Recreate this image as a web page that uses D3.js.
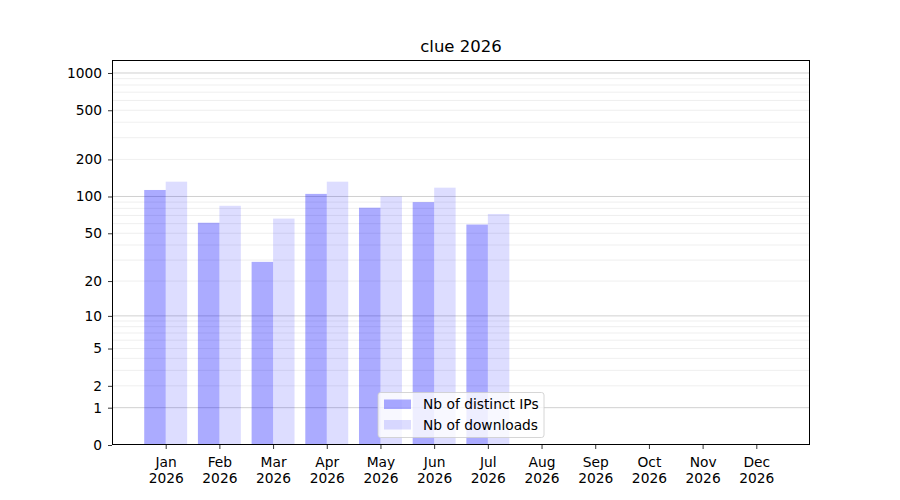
<!DOCTYPE html>
<html>
<head>
<meta charset="utf-8">
<script src="https://cdn.jsdelivr.net/npm/d3@7"></script>
<style>
  body { margin: 0; background: #fff; }
  text { font-family: "DejaVu Sans", sans-serif; fill: #000; }
</style>
</head>
<body>
<div id="chart"></div>
<script>
const months = ['Jan', 'Feb', 'Mar', 'Apr', 'May', 'Jun', 'Jul', 'Aug', 'Sep', 'Oct', 'Nov', 'Dec'];
const year = '2026';
const distinctIPs = [113, 61, 29, 105, 81, 90, 59];
const downloads = [132, 84, 66, 132, 100, 118, 72];
const yTicks = [0, 1, 2, 5, 10, 20, 50, 100, 200, 500, 1000];
const majorGrid = [1, 10, 100, 1000];
const minorGrid = [2, 3, 4, 5, 6, 7, 8, 9, 20, 30, 40, 50, 60, 70, 80, 90,
    200, 300, 400, 500, 600, 700, 800, 900];

const width = 900, height = 500;
const plot = { left: 112, right: 810, top: 60, bottom: 445 };
const fontSize = '13.8px';

const svg = d3.select('#chart').append('svg')
    .attr('width', width)
    .attr('height', height);

const x = d3.scaleLinear().domain([-1, 12]).range([plot.left, plot.right]);
const y = d3.scaleSymlog().constant(1).domain([0, 1273]).range([plot.bottom, plot.top]);
const barW = 0.4;

// grid lines
svg.append('g').selectAll('line').data(minorGrid).join('line')
    .attr('x1', plot.left).attr('x2', plot.right)
    .attr('y1', d => y(d)).attr('y2', d => y(d))
    .attr('stroke', '#ebebeb').attr('stroke-width', 0.8);
svg.append('g').selectAll('line').data(majorGrid).join('line')
    .attr('x1', plot.left).attr('x2', plot.right)
    .attr('y1', d => y(d)).attr('y2', d => y(d))
    .attr('stroke', '#c4c4c4').attr('stroke-width', 0.8);

// bars
svg.append('g').selectAll('rect').data(distinctIPs).join('rect')
    .attr('x', (d, i) => x(i - barW))
    .attr('width', x(barW) - x(0))
    .attr('y', d => y(d))
    .attr('height', d => y(0) - y(d))
    .attr('fill', 'blue').attr('fill-opacity', 0.33);
svg.append('g').selectAll('rect').data(downloads).join('rect')
    .attr('x', (d, i) => x(i))
    .attr('width', x(barW) - x(0))
    .attr('y', d => y(d))
    .attr('height', d => y(0) - y(d))
    .attr('fill', 'blue').attr('fill-opacity', 0.135);

// axes
const yAxis = d3.axisLeft(y).tickValues(yTicks).tickSize(4).tickPadding(6)
    .tickFormat(d3.format('d'));
const gy = svg.append('g').attr('transform', `translate(${plot.left},0)`).call(yAxis);
gy.select('.domain').remove();
gy.selectAll('text').style('font-size', fontSize);
gy.selectAll('line').attr('stroke-width', 0.8);

const xAxis = d3.axisBottom(x).tickValues(d3.range(12)).tickSize(4).tickPadding(4)
    .tickFormat(() => '');
const gx = svg.append('g').attr('transform', `translate(0,${plot.bottom})`).call(xAxis);
gx.select('.domain').remove();
gx.selectAll('line').attr('stroke-width', 0.8);
gx.selectAll('.tick').each(function(d) {
    const t = d3.select(this).append('text')
        .attr('text-anchor', 'middle')
        .style('font-size', fontSize);
    t.append('tspan').attr('x', 0).attr('y', 22).text(months[d]);
    t.append('tspan').attr('x', 0).attr('y', 37.5).text(year);
});

// frame
svg.append('rect')
    .attr('x', plot.left + 0.5).attr('y', plot.top + 0.5)
    .attr('width', plot.right - plot.left - 1).attr('height', plot.bottom - plot.top - 1)
    .attr('fill', 'none').attr('stroke', '#000').attr('stroke-width', 1)
    .attr('shape-rendering', 'crispEdges');

// title
svg.append('text')
    .attr('x', (plot.left + plot.right) / 2).attr('y', 52)
    .attr('text-anchor', 'middle')
    .style('font-size', '16.5px')
    .text('clue ' + year);

// legend
const legend = svg.append('g').attr('transform', 'translate(378,392.5)');
legend.append('rect')
    .attr('width', 166).attr('height', 45).attr('rx', 2.5)
    .attr('fill', 'white').attr('fill-opacity', 0.8)
    .attr('stroke', '#cccccc').attr('stroke-width', 0.8);
const items = [
    { label: 'Nb of distinct IPs', op: 0.33 },
    { label: 'Nb of downloads', op: 0.135 }
];
items.forEach((it, i) => {
    const ly = 7 + i * 20.5;
    legend.append('rect')
        .attr('x', 6).attr('y', ly).attr('width', 27).attr('height', 9.5)
        .attr('fill', 'blue').attr('fill-opacity', it.op);
    legend.append('text')
        .attr('x', 45).attr('y', ly + 9.5)
        .style('font-size', fontSize)
        .text(it.label);
});
</script>
</body>
</html>
